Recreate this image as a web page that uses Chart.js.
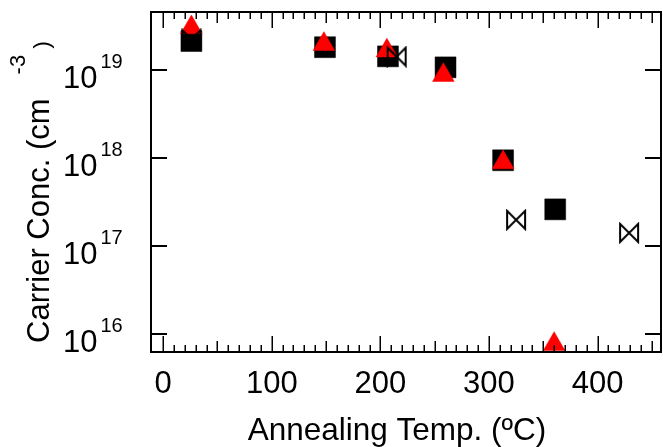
<!DOCTYPE html>
<html><head><meta charset="utf-8">
<script src="https://cdn.jsdelivr.net/npm/chart.js@4/dist/chart.umd.min.js"></script>
<style>html,body{margin:0;padding:0;background:#fff;}#wrap{width:663px;height:447px;position:relative;}</style>
</head><body><div id="wrap"><canvas id="c" width="663" height="447"></canvas></div>
<script>
// ---- data ----
const squareTemps   = [26, 149, 207, 260, 313, 361];
const squareConc    = [2.15e19, 1.83e19, 1.44e19, 1.08e19, 9.5e17, 2.63e17];
const triangleTemps = [26, 148, 206, 258, 313, 360];
const triangleConc  = [3.06e19, 1.98e19, 1.67e19, 8.8e18, 8.96e17, 7.72e15];
const bowtieTemps   = [26, 215, 325, 429];
const bowtieConc    = [2.25e19, 1.43e19, 2.0e17, 1.42e17];
const xTickLabels   = [0, 100, 200, 300, 400];
const yTickExponents = [16, 17, 18, 19];
const xAxisTitle = 'Annealing Temp. (ºC)';
const yAxisTitle = 'Carrier Conc. (cm';
const yAxisTitleSup = '-3';
const yAxisTitleEnd = ')';

const FONT = "'Liberation Sans', Arial, sans-serif";

function toPoints(xs, ys) { return xs.map((x, i) => ({ x: x, y: ys[i] })); }

// bow-tie marker (open)
const bow = document.createElement('canvas');
bow.width = 22; bow.height = 22;
(function () {
  const g = bow.getContext('2d');
  g.strokeStyle = '#000'; g.lineWidth = 2; g.lineJoin = 'miter';
  g.beginPath();
  g.moveTo(2, 2); g.lineTo(2, 20); g.lineTo(20, 2); g.lineTo(20, 20); g.closePath();
  g.stroke();
})();

const framePlugin = {
  id: 'frame',
  afterDraw(chart) {
    const ctx = chart.ctx, a = chart.chartArea;
    const xs = chart.scales.x, ys = chart.scales.y;
    ctx.save();
    ctx.strokeStyle = '#000';
    // frame
    ctx.lineWidth = 2;
    ctx.strokeRect(a.left, a.top, a.right - a.left, a.bottom - a.top);
    // x ticks (top & bottom), every 10
    ctx.lineWidth = 1.5;
    for (let v = 0; v <= xs.max; v += 10) {
      const px = Math.round(xs.getPixelForValue(v)) + 0.25;
      const len = (v % 100 === 0) ? 16 : (v % 50 === 0 ? 11 : 7);
      ctx.beginPath();
      ctx.moveTo(px, a.bottom); ctx.lineTo(px, a.bottom - len);
      ctx.moveTo(px, a.top); ctx.lineTo(px, a.top + len);
      ctx.stroke();
    }
    // y ticks (left & right)
    ctx.lineWidth = 2;
    yTickExponents.forEach(e => {
      const py = Math.round(ys.getPixelForValue(Math.pow(10, e)));
      ctx.beginPath();
      ctx.moveTo(a.left, py); ctx.lineTo(a.left + 16, py);
      ctx.moveTo(a.right, py); ctx.lineTo(a.right - 16, py);
      ctx.stroke();
    });
    // x tick labels
    ctx.fillStyle = '#000';
    ctx.font = '31px ' + FONT;
    ctx.textAlign = 'center'; ctx.textBaseline = 'alphabetic';
    xTickLabels.forEach(v => {
      ctx.fillText(String(v), xs.getPixelForValue(v), 393);
    });
    // y tick labels 10^n
    yTickExponents.forEach(e => {
      const py = ys.getPixelForValue(Math.pow(10, e));
      ctx.font = '31px ' + FONT;
      ctx.textAlign = 'right';
      ctx.fillText('10', 97.5, py + 18);
      ctx.font = '20px ' + FONT;
      ctx.textAlign = 'left';
      ctx.fillText(String(e), 100.5, py - 2);
    });
    // x title
    ctx.font = '31.5px ' + FONT;
    ctx.textAlign = 'center';
    ctx.fillText(xAxisTitle, 397, 440);
    // y title (rotated)
    ctx.translate(48.5, 343);
    ctx.rotate(-Math.PI / 2);
    ctx.textAlign = 'left';
    ctx.font = '31px ' + FONT;
    ctx.fillText(yAxisTitle, 0, 0);
    const w = ctx.measureText(yAxisTitle).width;
    ctx.font = '22px ' + FONT;
    ctx.fillText(yAxisTitleSup, w + 24, -23.5);
    ctx.fillText(yAxisTitleEnd, w + 50, 0);
    ctx.restore();
  }
};

new Chart(document.getElementById('c'), {
  type: 'scatter',
  data: {
    datasets: [
      { label: 'bowtie', data: toPoints(bowtieTemps, bowtieConc), pointStyle: bow,
        pointRadius: 11, order: 0, clip: false },
      { label: 'triangle', data: toPoints(triangleTemps, triangleConc), pointStyle: 'triangle',
        pointRadius: 12.5, backgroundColor: '#ff0000', borderColor: '#ff0000', borderWidth: 0.5, order: 1, clip: false },
      { label: 'square', data: toPoints(squareTemps, squareConc), pointStyle: 'rect',
        pointRadius: 14.8, backgroundColor: '#000000', borderColor: '#000000', borderWidth: 0.5, order: 2, clip: false }
    ]
  },
  options: {
    responsive: false,
    animation: false,
    events: [],
    layout: { autoPadding: false, padding: { left: 151, right: 2, top: 12, bottom: 95 } },
    plugins: { legend: { display: false }, tooltip: { enabled: false }, title: { display: false } },
    scales: {
      x: { type: 'linear', min: -11.2, max: 458.4, display: false },
      y: { type: 'logarithmic', min: Math.pow(10, 15.799), max: Math.pow(10, 19.6625), display: false }
    }
  },
  plugins: [framePlugin]
});
</script>
</body></html>
